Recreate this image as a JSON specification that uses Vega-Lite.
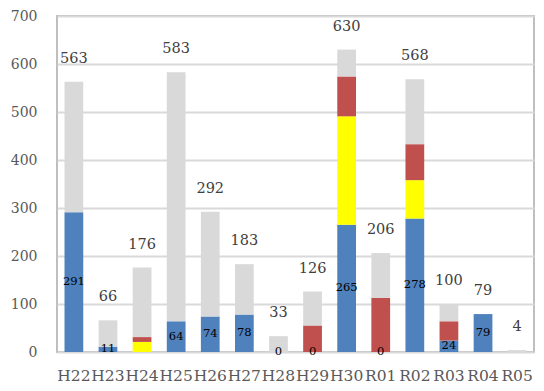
{
  "$schema": "https://vega.github.io/schema/vega-lite/v6.json",
  "width": 477,
  "height": 336,
  "autosize": {"type": "none"},
  "padding": {"left": 57, "top": 16, "right": 10, "bottom": 39},
  "background": "white",
  "config": {
    "view": {"stroke": "#bfbfbf", "strokeWidth": 2},
    "font": "DejaVu Serif"
  },
  "data": {
    "values": [
      {"year": "H22", "type": "blue", "k": 1, "value": 291},
      {"year": "H22", "type": "gray", "k": 4, "value": 272},
      {"year": "H23", "type": "blue", "k": 1, "value": 11},
      {"year": "H23", "type": "gray", "k": 4, "value": 55},
      {"year": "H24", "type": "yellow", "k": 2, "value": 21},
      {"year": "H24", "type": "red", "k": 3, "value": 10},
      {"year": "H24", "type": "gray", "k": 4, "value": 145},
      {"year": "H25", "type": "blue", "k": 1, "value": 64},
      {"year": "H25", "type": "gray", "k": 4, "value": 519},
      {"year": "H26", "type": "blue", "k": 1, "value": 74},
      {"year": "H26", "type": "gray", "k": 4, "value": 218},
      {"year": "H27", "type": "blue", "k": 1, "value": 78},
      {"year": "H27", "type": "gray", "k": 4, "value": 105},
      {"year": "H28", "type": "blue", "k": 1, "value": 0},
      {"year": "H28", "type": "gray", "k": 4, "value": 33},
      {"year": "H29", "type": "blue", "k": 1, "value": 0},
      {"year": "H29", "type": "red", "k": 3, "value": 55},
      {"year": "H29", "type": "gray", "k": 4, "value": 71},
      {"year": "H30", "type": "blue", "k": 1, "value": 265},
      {"year": "H30", "type": "yellow", "k": 2, "value": 226},
      {"year": "H30", "type": "red", "k": 3, "value": 83},
      {"year": "H30", "type": "gray", "k": 4, "value": 56},
      {"year": "R01", "type": "blue", "k": 1, "value": 0},
      {"year": "R01", "type": "red", "k": 3, "value": 113},
      {"year": "R01", "type": "gray", "k": 4, "value": 93},
      {"year": "R02", "type": "blue", "k": 1, "value": 278},
      {"year": "R02", "type": "yellow", "k": 2, "value": 80},
      {"year": "R02", "type": "red", "k": 3, "value": 75},
      {"year": "R02", "type": "gray", "k": 4, "value": 135},
      {"year": "R03", "type": "blue", "k": 1, "value": 24},
      {"year": "R03", "type": "red", "k": 3, "value": 40},
      {"year": "R03", "type": "gray", "k": 4, "value": 36},
      {"year": "R04", "type": "blue", "k": 1, "value": 79},
      {"year": "R05", "type": "gray", "k": 4, "value": 4}
    ]
  },
  "encoding": {
    "x": {
      "field": "year",
      "type": "nominal",
      "sort": null,
      "title": null,
      "scale": {"paddingInner": 0.45, "paddingOuter": 0.22},
      "axis": {
        "labelAngle": 0,
        "labelFont": "DejaVu Serif",
        "labelFontSize": 15.5,
        "labelColor": "#595959",
        "labelPadding": 16,
        "labelOverlap": false,
        "ticks": false,
        "domain": false
      }
    }
  },
  "layer": [
    {
      "mark": {"type": "bar"},
      "encoding": {
        "y": {
          "field": "value",
          "type": "quantitative",
          "stack": "zero",
          "title": null,
          "scale": {"domain": [0, 700], "nice": false},
          "axis": {
            "values": [0, 100, 200, 300, 400, 500, 600, 700],
            "labelFont": "DejaVu Serif",
            "labelFontSize": 14,
            "labelColor": "#595959",
            "labelPadding": 20,
            "ticks": false,
            "domain": false,
            "gridColor": "#d9d9d9",
            "gridWidth": 2
          }
        },
        "order": {"field": "k", "type": "quantitative"},
        "color": {
          "field": "type",
          "type": "nominal",
          "legend": null,
          "scale": {
            "domain": ["blue", "yellow", "red", "gray"],
            "range": ["#4f81bd", "#ffff00", "#c0504d", "#d9d9d9"]
          }
        }
      }
    },
    {
      "transform": [{"filter": "datum.type === 'blue'"}],
      "mark": {"type": "text", "fontSize": 11.5, "color": "#000000", "baseline": "middle", "font": "DejaVu Serif"},
      "encoding": {
        "y": {"field": "value", "type": "quantitative", "stack": "zero", "bandPosition": 0.5},
        "text": {"field": "value", "type": "quantitative"}
      }
    },
    {
      "transform": [{"aggregate": [{"op": "sum", "field": "value", "as": "total"}], "groupby": ["year"]}],
      "mark": {"type": "text", "fontSize": 14.5, "color": "#404040", "baseline": "middle", "dy": -23, "font": "DejaVu Serif"},
      "encoding": {
        "y": {"field": "total", "type": "quantitative"},
        "text": {"field": "total", "type": "quantitative"}
      }
    }
  ]
}
